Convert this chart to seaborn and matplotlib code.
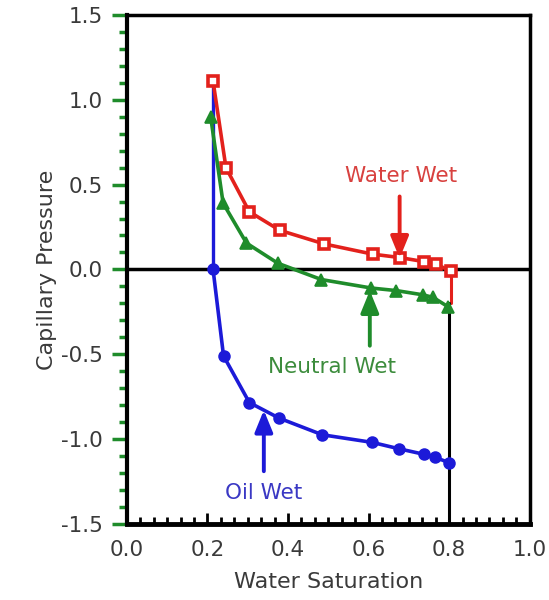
import matplotlib
matplotlib.use("Agg")
import matplotlib.pyplot as plt
from matplotlib.ticker import MultipleLocator
import seaborn as sns
import pandas as pd

# ---- data ----
water_sw = [0.214, 0.246, 0.304, 0.38, 0.49, 0.61, 0.677, 0.737, 0.768, 0.804]
water_pc = [1.11, 0.60, 0.34, 0.23, 0.15, 0.09, 0.07, 0.046, 0.03, -0.01]

neutral_sw = [0.208, 0.239, 0.297, 0.375, 0.483, 0.607, 0.669, 0.735, 0.76, 0.797]
neutral_pc = [0.90, 0.39, 0.155, 0.036, -0.06, -0.11, -0.125, -0.15, -0.165, -0.22]

oil_sw = [0.214, 0.24, 0.304, 0.378, 0.485, 0.609, 0.676, 0.737, 0.764, 0.80]
oil_pc = [0.0, -0.51, -0.785, -0.877, -0.975, -1.02, -1.058, -1.09, -1.107, -1.14]
oil_top_pc = 1.10          # vertical blue segment starts here at Swi
water_drop_pc = -0.20      # red vertical drop at Sw = 1 - Sor
sor_sw = 0.80              # black vertical line (1 - Sor)

labels = ["Water Wet", "Neutral Wet", "Oil Wet"]
label_pos = [(0.68, 0.55), (0.51, -0.575), (0.34, -1.32)]
arrow_from = [(0.677, 0.43), (0.603, -0.45), (0.34, -1.19)]
arrow_to = [(0.677, 0.065), (0.603, -0.125), (0.34, -0.83)]

RED = "#e3211c"
GREEN = "#1f8c2b"
BLUE = "#1c1ad8"
TXT = ["#d8413f", "#3c8c3c", "#3a38c4"]

df = pd.concat([
    pd.DataFrame({"Sw": water_sw, "Pc": water_pc, "s": "water"}),
    pd.DataFrame({"Sw": neutral_sw, "Pc": neutral_pc, "s": "neutral"}),
    pd.DataFrame({"Sw": oil_sw, "Pc": oil_pc, "s": "oil"}),
], ignore_index=True)

sns.set_theme(style="white")
plt.rcParams["font.family"] = ["DejaVu Sans"]
plt.rcParams["axes.unicode_minus"] = False

fig = plt.figure(figsize=(5.49, 6.0), dpi=100)
ax = fig.add_axes([0.231, 0.127, 0.734, 0.848])

# extra vertical segments
sns.lineplot(x=[oil_sw[0], oil_sw[0]], y=[oil_top_pc, oil_pc[0]], color=BLUE,
             lw=2.4, ax=ax, estimator=None, sort=False)
sns.lineplot(x=[water_sw[-1], water_sw[-1]], y=[water_pc[-1], water_drop_pc], color=RED,
             lw=2.2, ax=ax, estimator=None, sort=False)
sns.lineplot(x=[sor_sw, sor_sw], y=[-1.5, water_drop_pc], color="black",
             lw=2.2, ax=ax, estimator=None, sort=False)

ax.axhline(0, color="black", lw=2.5, zorder=2)

styles = {
    "water": dict(color=RED, marker="s", mfc="white", ms=7.5, mew=2.6),
    "neutral": dict(color=GREEN, marker="^", mfc=GREEN, ms=8.5, mew=1.2),
    "oil": dict(color=BLUE, marker="o", mfc=BLUE, ms=7.8, mew=1.2),
}
for key, st in styles.items():
    sub = df[df["s"] == key]
    sns.lineplot(data=sub, x="Sw", y="Pc", ax=ax, estimator=None, sort=False,
                 color=st["color"], lw=2.6, marker=st["marker"],
                 markerfacecolor=st["mfc"], markeredgecolor=st["color"],
                 markersize=st["ms"], markeredgewidth=st["mew"], zorder=4)

for lab, (tx, ty), (ax0, ay0), (ax1, ay1), c, lc in zip(
        labels, label_pos, arrow_from, arrow_to, TXT, [RED, GREEN, BLUE]):
    ax.text(tx, ty, lab, color=c, fontsize=15.5, ha="center", va="center")
    ax.annotate("", xy=(ax1, ay1), xytext=(ax0, ay0),
                arrowprops=dict(arrowstyle="-|>,head_width=0.45,head_length=1.1",
                                color=lc, lw=2.8, shrinkA=0, shrinkB=0), zorder=5)

ax.set_xlim(0, 1.0)
ax.set_ylim(-1.5, 1.5)
ax.xaxis.set_major_locator(MultipleLocator(0.2))
ax.xaxis.set_minor_locator(MultipleLocator(0.2 / 6))
ax.yaxis.set_major_locator(MultipleLocator(0.5))
ax.yaxis.set_minor_locator(MultipleLocator(0.1))

ax.tick_params(axis="x", which="major", direction="in", length=8, width=2,
               color="black", labelsize=15.5, labelcolor="#3a3a3a", pad=12, bottom=True)
ax.tick_params(axis="x", which="minor", direction="in", length=5, width=2,
               color="black", bottom=True)
ax.tick_params(axis="y", which="major", direction="out", length=11, width=2.5,
               color=GREEN, labelsize=15.5, labelcolor="#3a3a3a", pad=6, left=True)
ax.tick_params(axis="y", which="minor", direction="out", length=6, width=2.5,
               color=GREEN, left=True)

for side, w in [("left", 3), ("bottom", 3.5), ("top", 2.5), ("right", 2.5)]:
    ax.spines[side].set_visible(True)
    ax.spines[side].set_color("black")
    ax.spines[side].set_linewidth(w)

ax.set_xlabel("Water Saturation", fontsize=16, color="#3a3a3a", labelpad=8)
ax.set_ylabel("Capillary Pressure", fontsize=16, color="#3a3a3a", labelpad=3)
ax.grid(False)

fig.savefig("out.png", dpi=100, facecolor="white")
